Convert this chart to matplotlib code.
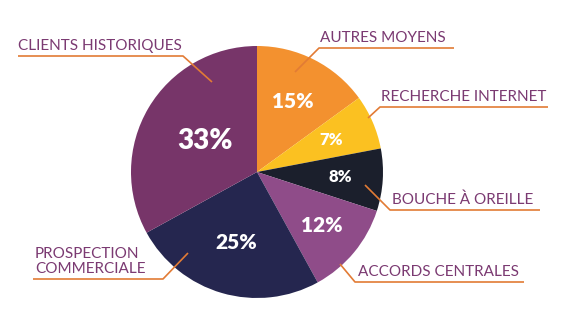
import matplotlib
matplotlib.use("Agg")
import matplotlib.pyplot as plt
import numpy as np

plt.rcParams['font.family'] = ['Lato', 'DejaVu Sans']

# données
categories = ['AUTRES MOYENS', 'RECHERCHE INTERNET', 'BOUCHE À OREILLE',
              'ACCORDS CENTRALES', 'PROSPECTION\nCOMMERCIALE', 'CLIENTS HISTORIQUES']
values = [15, 7, 8, 12, 25, 33]
pct_labels = ['15%', '7%', '8%', '12%', '25%', '33%']

colors = ['#F3912F', '#FBC121', '#1B1F2C', '#8F4C89', '#25264F', '#773569']
pct_sizes = [15, 12, 12, 15, 15, 20]
pct_dist = [0.63, 0.64, 0.66, 0.67, 0.58, 0.48]

text_color = '#7B3A72'
line_color = '#E27B35'

W, H = 570, 312
fig = plt.figure(figsize=(5.7, 3.12), dpi=100)
ax = fig.add_axes([0, 0, 1, 1])

cx, cy, r = 257, H - 172, 126
wedges, _ = ax.pie(values, colors=colors, startangle=90, counterclock=False,
                   center=(cx, cy), radius=r, frame=True,
                   wedgeprops=dict(linewidth=0))
ax.set_xlim(0, W)
ax.set_ylim(0, H)
ax.set_aspect('equal')
ax.axis('off')

# pourcentages dans les parts
for w, lab, fs, d in zip(wedges, pct_labels, pct_sizes, pct_dist):
    ang = np.deg2rad((w.theta1 + w.theta2) / 2)
    ax.text(cx + d * r * np.cos(ang), cy + d * r * np.sin(ang), lab,
            color='white', fontsize=fs, fontweight='heavy',
            ha='center', va='center')

# étiquettes avec traits de rappel (positions en pixels, y depuis le haut)
# (point dans la part, coude, fin du soulignement, position du texte)
leaders = [
    ((295, 72), (319, 48), (454, 48), (320, 45)),
    ((368, 118), (380, 107), (548, 107), (381, 104)),
    ((365, 185), (390, 210), (540, 210), (392, 207)),
    ((340, 264), (355, 282), (524, 282), (358, 279)),
    ((188, 253), (163, 279), (33, 279), (35, 276)),
    ((212, 82), (183, 56), (18, 56), (18, 53)),
]
for lab, (p0, p1, p2, pt) in zip(categories, leaders):
    ax.plot([p0[0], p1[0], p2[0]], [H - p0[1], H - p1[1], H - p2[1]],
            color=line_color, lw=1.2, solid_capstyle='butt')
    ax.text(pt[0], H - pt[1], lab, color=text_color, fontsize=11,
            ha='left', va='bottom', linespacing=1.05)

fig.savefig('out.png', dpi=100, facecolor='white')
